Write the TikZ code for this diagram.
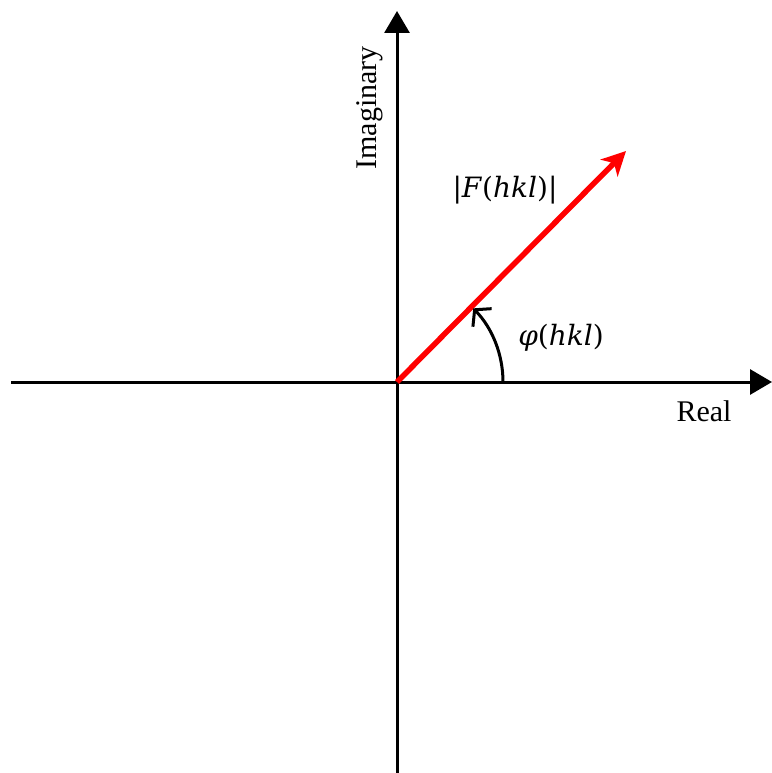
\documentclass[tikz,border=0pt]{standalone}
\usepackage{fontspec}
\setmainfont{Liberation Serif}
\newfontfamily\mathlike{DejaVu Serif}
\usetikzlibrary{arrows.meta}
\begin{document}
\begin{tikzpicture}[x=1pt,y=-1pt,
  axis/.style={line width=3pt,-{Triangle[length=22pt,width=25pt]}},
  vec/.style={draw=red,line width=5.5pt,-{Stealth[length=24pt,width=24pt,inset=7pt]}},
  lab/.style={font=\fontsize{30}{35}\selectfont,inner sep=0pt},
  mlab/.style={font=\mathlike\fontsize{28}{33}\selectfont,inner sep=0pt}]
\useasboundingbox (0,0) rectangle (771,773);
\coordinate (O) at (397,382);
\coordinate (xl) at (11,382);
\coordinate (xr) at (772,382);
\coordinate (yb) at (397,774);
\coordinate (yt) at (397,11);
\coordinate (P) at (626,151);
\draw[axis] (xl) -- (xr);
\draw[axis] (yb) -- (yt);
\draw[vec] (O) -- (P);
\coordinate (A0) at (503,382);
\draw[line width=3pt,-{Straight Barb[length=11pt,width=26pt]}] (A0) arc[start angle=0,end angle=-44,radius=106];
\node[lab,rotate=90] (im) at (370,108) {Imaginary};
\node[lab] (re) at (704,411) {Real};
\node[mlab] (F) at (505,190) {|\textit{F}(\textit{hkl})|};
\node[mlab] (phi) at (561,338) {\textit{φ}(\textit{hkl})};
\end{tikzpicture}
\end{document}
